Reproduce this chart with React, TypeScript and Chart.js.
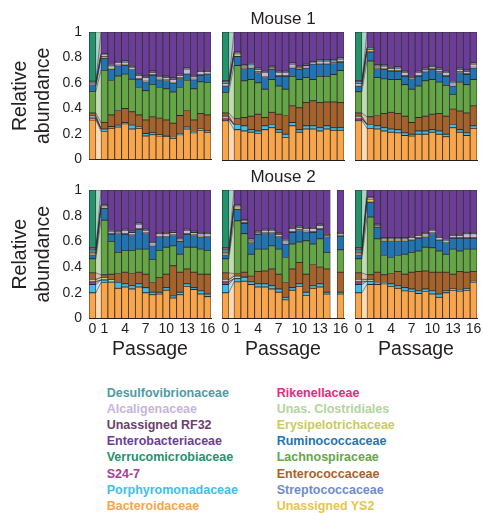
import React, { useEffect, useRef } from 'react';
import { Chart, registerables } from 'chart.js';

Chart.register(...registerables);

const FONT = '"Liberation Sans", Arial, Helvetica, sans-serif';
const TEXT = '#231f20';
const N = null;

const passages = [0, 1, 2, 3, 4, 5, 6, 7, 8, 9, 10, 11, 12, 13, 14, 15, 16];
const tickPassages = [0, 1, 4, 7, 10, 13, 16];
const panelTitles = [' ', 'Mouse 1', ' ', ' ', 'Mouse 2', ' '];

// stack order, bottom -> top
const families = [
  'Bacteroidaceae', 'Porphyromonadaceae', 'S24-7', 'Rikenellaceae', 'Unas. Clostridiales',
  'Streptococcaceae', 'Enterococcaceae', 'Lachnospiraceae', 'Ruminococcaceae', 'Unassigned YS2',
  'Erysipelotrichaceae', 'Alcaligenaceae', 'Desulfovibrionaceae', 'Unassigned RF32',
  'Enterobacteriaceae', 'Verrucomicrobiaceae',
];
const familyColors: Record<string, string> = {
  'Desulfovibrionaceae': '#4d9ca3',
  'Alcaligenaceae': '#c7b5dc',
  'Unassigned RF32': '#6a3f6b',
  'Enterobacteriaceae': '#6c3d98',
  'Verrucomicrobiaceae': '#22936b',
  'S24-7': '#a53e95',
  'Porphyromonadaceae': '#3cbfeb',
  'Bacteroidaceae': '#f9a54a',
  'Rikenellaceae': '#e6297d',
  'Unas. Clostridiales': '#b2d49b',
  'Erysipelotrichaceae': '#cacb5e',
  'Ruminococcaceae': '#1f75b3',
  'Lachnospiraceae': '#64a645',
  'Enterococcaceae': '#a5632b',
  'Streptococcaceae': '#6e8ccd',
  'Unassigned YS2': '#e6c54c',
};
const legendLeft = ['Desulfovibrionaceae', 'Alcaligenaceae', 'Unassigned RF32', 'Enterobacteriaceae',
  'Verrucomicrobiaceae', 'S24-7', 'Porphyromonadaceae', 'Bacteroidaceae'];
const legendRight = ['Rikenellaceae', 'Unas. Clostridiales', 'Erysipelotrichaceae', 'Ruminococcaceae',
  'Lachnospiraceae', 'Enterococcaceae', 'Streptococcaceae', 'Unassigned YS2'];

// each family: 6 panels (Mouse 1 row: 3 panels, Mouse 2 row: 3 panels) x 17 passages
const bacteroidaceae = [
  [0.31, 0.22, 0.245, 0.255, 0.28, 0.24, 0.245, 0.185, 0.195, 0.185, 0.18, 0.165, 0.195, 0.24, 0.21, 0.23, 0.215],
  [0.31, 0.24, 0.23, 0.22, 0.21, 0.24, 0.255, 0.22, 0.18, 0.27, 0.22, 0.245, 0.245, 0.23, 0.245, 0.235, 0.235],
  [0.31, 0.25, 0.245, 0.23, 0.22, 0.215, 0.195, 0.19, 0.205, 0.205, 0.22, 0.205, 0.185, 0.255, 0.22, 0.195, 0.25],
  [0.2, 0.28, 0.28, 0.235, 0.245, 0.23, 0.245, 0.2, 0.185, 0.19, 0.22, 0.16, 0.185, 0.25, 0.225, 0.19, 0.17],
  [0.2, 0.285, 0.29, 0.265, 0.245, 0.245, 0.23, 0.205, 0.145, 0.22, 0.25, 0.18, 0.235, 0.245, 0.19, N, 0.19],
  [0.2, 0.265, 0.265, 0.27, 0.25, 0.235, 0.215, 0.21, 0.195, 0.21, 0.19, 0.165, 0.2, 0.22, 0.21, 0.22, 0.28],
];
const porphyromonadaceae = [
  [0.01, 0.02, 0.015, 0.015, 0.01, 0.03, 0.01, 0.02, 0.015, 0.01, 0.01, 0.01, 0.01, 0.015, 0.01, 0.01, 0.01],
  [0.01, 0.04, 0.04, 0.02, 0.02, 0.03, 0.025, 0.02, 0.025, 0.025, 0.02, 0.025, 0.025, 0.025, 0.025, 0.02, 0.02],
  [0.01, 0.03, 0.025, 0.025, 0.025, 0.025, 0.02, 0.015, 0.025, 0.025, 0.02, 0.025, 0.02, 0.025, 0.02, 0.02, 0.02],
  [0.065, 0.02, 0.01, 0.045, 0.025, 0.025, 0.025, 0.04, 0.02, 0.015, 0.02, 0.015, 0.02, 0.02, 0.015, 0.025, 0.02],
  [0.065, 0.025, 0.03, 0.02, 0.025, 0.025, 0.025, 0.025, 0.02, 0.02, 0.02, 0.025, 0.02, 0.025, 0.015, N, 0.015],
  [0.065, 0.025, 0.005, 0.01, 0.02, 0.02, 0.025, 0.02, 0.02, 0.02, 0.025, 0.025, 0.015, 0.01, 0.01, 0.015, 0.01],
];
const s24_7 = [
  [0.005, 0, 0, 0, 0, 0, 0, 0, 0, 0, 0, 0, 0, 0, 0, 0, 0],
  [0.005, 0, 0, 0, 0, 0, 0, 0, 0, 0, 0, 0, 0, 0, 0, 0, 0],
  [0.005, 0, 0, 0, 0, 0, 0, 0, 0, 0, 0, 0, 0, 0, 0, 0, 0],
  [0.02, 0, 0, 0, 0, 0, 0, 0, 0, 0, 0, 0, 0, 0, 0, 0, 0],
  [0.02, 0, 0, 0, 0, 0, 0, 0, 0, 0, 0, 0, 0, 0, 0, N, 0],
  [0.02, 0, 0, 0, 0, 0, 0, 0, 0, 0, 0, 0, 0, 0, 0, 0, 0],
];
const rikenellaceae = [
  [0.005, 0, 0, 0, 0, 0, 0, 0, 0, 0, 0, 0, 0, 0, 0, 0, 0],
  [0.005, 0, 0, 0, 0, 0, 0, 0, 0, 0, 0, 0, 0, 0, 0, 0, 0],
  [0.005, 0, 0, 0, 0, 0, 0, 0, 0, 0, 0, 0, 0, 0, 0, 0, 0],
  [0.005, 0, 0, 0, 0, 0, 0, 0, 0, 0, 0, 0, 0, 0, 0, 0, 0],
  [0.005, 0, 0, 0, 0, 0, 0, 0, 0, 0, 0, 0, 0, 0, 0, N, 0],
  [0.005, 0, 0, 0, 0, 0, 0, 0, 0, 0, 0, 0, 0, 0, 0, 0, 0],
];
const unasClostridiales = [
  [0.01, 0, 0, 0, 0, 0, 0, 0, 0, 0, 0, 0, 0, 0, 0, 0, 0],
  [0.01, 0, 0, 0, 0, 0, 0, 0, 0, 0, 0, 0, 0, 0, 0, 0, 0],
  [0.01, 0, 0, 0, 0, 0, 0, 0, 0, 0, 0, 0, 0, 0, 0, 0, 0],
  [0.01, 0.02, 0.01, 0, 0, 0, 0, 0, 0, 0, 0, 0, 0, 0, 0, 0, 0],
  [0.01, 0.02, 0.005, 0, 0, 0, 0, 0, 0, 0, 0, 0, 0, 0, 0, N, 0],
  [0.01, 0.015, 0.01, 0, 0, 0, 0, 0, 0, 0, 0, 0, 0, 0, 0, 0, 0],
];
const streptococcaceae = [
  [0.005, 0, 0, 0, 0, 0, 0, 0, 0, 0, 0, 0, 0, 0, 0, 0, 0],
  [0.005, 0, 0, 0, 0, 0, 0, 0, 0, 0, 0, 0, 0, 0, 0, 0, 0],
  [0.005, 0, 0, 0, 0, 0, 0, 0, 0, 0, 0, 0, 0, 0, 0, 0, 0],
  [0.005, 0, 0, 0, 0, 0, 0, 0, 0, 0, 0, 0, 0, 0, 0, 0, 0],
  [0.005, 0, 0, 0, 0, 0, 0, 0, 0, 0, 0, 0, 0, 0, 0, N, 0],
  [0.005, 0, 0, 0, 0, 0, 0, 0, 0, 0, 0, 0, 0, 0, 0, 0, 0],
];
const enterococcaceae = [
  [0.02, 0.05, 0.09, 0.115, 0.11, 0.105, 0.095, 0.105, 0.125, 0.13, 0.12, 0.11, 0.14, 0.13, 0.09, 0.12, 0.125],
  [0.025, 0.045, 0.065, 0.105, 0.13, 0.065, 0.095, 0.12, 0.145, 0.13, 0.17, 0.18, 0.195, 0.195, 0.185, 0.2, 0.195],
  [0.025, 0.06, 0.08, 0.11, 0.13, 0.125, 0.13, 0.09, 0.105, 0.115, 0.12, 0.135, 0.14, 0.12, 0.145, 0.155, 0.155],
  [0.05, 0.02, 0.045, 0.07, 0.09, 0.095, 0.09, 0.105, 0.075, 0.115, 0.105, 0.235, 0.155, 0.115, 0.12, 0.13, 0.155],
  [0.05, 0.02, 0.035, 0.045, 0.095, 0.1, 0.13, 0.115, 0.115, 0.145, 0.165, 0.14, 0.165, 0.13, 0.18, N, 0.155],
  [0.05, 0.035, 0.08, 0.06, 0.08, 0.11, 0.105, 0.13, 0.15, 0.14, 0.145, 0.17, 0.145, 0.115, 0.145, 0.125, 0.075],
];
const lachnospiraceae = [
  [0.17, 0.41, 0.27, 0.27, 0.27, 0.255, 0.215, 0.23, 0.255, 0.24, 0.245, 0.245, 0.22, 0.235, 0.245, 0.25, 0.255],
  [0.16, 0.415, 0.285, 0.285, 0.245, 0.22, 0.255, 0.22, 0.205, 0.23, 0.22, 0.195, 0.165, 0.205, 0.2, 0.215, 0.25],
  [0.165, 0.435, 0.295, 0.27, 0.255, 0.265, 0.245, 0.26, 0.245, 0.275, 0.27, 0.245, 0.24, 0.115, 0.225, 0.22, 0.205],
  [0.11, 0.425, 0.255, 0.165, 0.17, 0.18, 0.18, 0.195, 0.18, 0.21, 0.21, 0.155, 0.14, 0.17, 0.195, 0.195, 0.185],
  [0.11, 0.41, 0.3, 0.17, 0.175, 0.17, 0.18, 0.195, 0.195, 0.195, 0.16, 0.26, 0.16, 0.22, 0.13, N, 0.175],
  [0.11, 0.45, 0.26, 0.15, 0.125, 0.125, 0.155, 0.155, 0.16, 0.185, 0.19, 0.165, 0.14, 0.195, 0.16, 0.18, 0.175],
];
const ruminococcaceae = [
  [0.045, 0.095, 0.09, 0.08, 0.07, 0.075, 0.065, 0.07, 0.07, 0.06, 0.065, 0.07, 0.07, 0.05, 0.07, 0.05, 0.065],
  [0.05, 0.07, 0.095, 0.09, 0.08, 0.09, 0.08, 0.075, 0.1, 0.065, 0.08, 0.075, 0.12, 0.095, 0.095, 0.085, 0.065],
  [0.045, 0.07, 0.07, 0.075, 0.065, 0.065, 0.065, 0.075, 0.075, 0.07, 0.08, 0.075, 0.07, 0.065, 0.075, 0.08, 0.09],
  [0.03, 0.09, 0.055, 0.145, 0.125, 0.115, 0.155, 0.12, 0.105, 0.1, 0.075, 0.08, 0.1, 0.1, 0.09, 0.095, 0.1],
  [0.03, 0.09, 0.08, 0.09, 0.115, 0.12, 0.095, 0.09, 0.105, 0.09, 0.09, 0.07, 0.09, 0.075, 0.115, N, 0.105],
  [0.03, 0.115, 0.09, 0.115, 0.13, 0.115, 0.105, 0.095, 0.1, 0.08, 0.11, 0.085, 0.09, 0.085, 0.1, 0.085, 0.085],
];
const unassignedYS2 = [
  [0, 0.015, 0.005, 0.005, 0.005, 0.005, 0.005, 0.005, 0.005, 0.005, 0.005, 0.005, 0.005, 0.005, 0.005, 0.005, 0.005],
  [0, 0.02, 0.005, 0.005, 0.005, 0.005, 0.005, 0.005, 0.005, 0.005, 0.005, 0.005, 0.005, 0.005, 0.005, 0.005, 0.005],
  [0, 0.02, 0.005, 0.005, 0.005, 0.005, 0.005, 0.005, 0.005, 0.005, 0.005, 0.005, 0.005, 0.005, 0.005, 0.005, 0.005],
  [0.005, 0.015, 0.005, 0.005, 0.005, 0.005, 0.005, 0.005, 0.005, 0.005, 0.005, 0.005, 0.005, 0.005, 0.005, 0.005, 0.005],
  [0.005, 0.02, 0.005, 0.005, 0.005, 0.005, 0.005, 0.005, 0.005, 0.005, 0.005, 0.005, 0.005, 0.005, 0.005, N, 0.005],
  [0.005, 0.025, 0.005, 0.005, 0.005, 0.005, 0.005, 0.005, 0.005, 0.005, 0.005, 0.005, 0.005, 0.005, 0.005, 0.005, 0.005],
];
const erysipelotrichaceae = [
  [0.005, 0, 0, 0, 0, 0, 0, 0, 0, 0, 0, 0, 0, 0, 0, 0, 0],
  [0.005, 0, 0, 0, 0, 0, 0, 0, 0, 0, 0, 0, 0, 0, 0, 0, 0],
  [0.005, 0, 0, 0, 0, 0, 0, 0, 0, 0, 0, 0, 0, 0, 0, 0, 0],
  [0.005, 0, 0, 0, 0, 0, 0, 0, 0, 0, 0, 0, 0, 0, 0, 0, 0],
  [0.005, 0, 0, 0, 0, 0, 0, 0, 0, 0, 0, 0, 0, 0, 0, N, 0],
  [0.005, 0, 0, 0, 0, 0, 0, 0, 0, 0, 0, 0, 0, 0, 0, 0, 0],
];
const alcaligenaceae = [
  [0.005, 0.01, 0.02, 0.02, 0.02, 0.01, 0.025, 0.03, 0.02, 0.02, 0.02, 0.025, 0.02, 0.035, 0.02, 0.025, 0.015],
  [0.01, 0.005, 0.015, 0.02, 0.02, 0.035, 0.01, 0.025, 0.025, 0.025, 0.01, 0.015, 0.005, 0.02, 0.02, 0.015, 0.02],
  [0.01, 0.005, 0.015, 0.02, 0.015, 0.02, 0.025, 0.01, 0.025, 0.015, 0.015, 0.02, 0.025, 0.02, 0.02, 0.02, 0.025],
  [0.01, 0.005, 0.015, 0.005, 0.025, 0.02, 0.035, 0.02, 0.02, 0.025, 0.025, 0.02, 0.01, 0.025, 0.02, 0.02, 0.025],
  [0.01, 0.005, 0.015, 0.015, 0.01, 0.02, 0.02, 0.02, 0.02, 0.025, 0.02, 0.02, 0.025, 0.025, 0.01, N, 0.015],
  [0.01, 0.005, 0.01, 0.01, 0.01, 0.01, 0.01, 0.015, 0.015, 0.02, 0.02, 0.015, 0.01, 0.015, 0.015, 0.03, 0.03],
];
const desulfovibrionaceae = [
  [0.02, 0.005, 0.005, 0.005, 0.005, 0.005, 0.005, 0.005, 0.005, 0.005, 0.005, 0.005, 0.005, 0.005, 0.005, 0.005, 0.005],
  [0.02, 0.005, 0.005, 0.005, 0.005, 0.005, 0.005, 0.005, 0.005, 0.005, 0.005, 0.005, 0.005, 0.005, 0.005, 0.005, 0.005],
  [0.02, 0.005, 0.005, 0.005, 0.005, 0.005, 0.005, 0.005, 0.005, 0.005, 0.005, 0.005, 0.005, 0.005, 0.005, 0.005, 0.005],
  [0.02, 0.005, 0.005, 0.005, 0.005, 0.005, 0.005, 0.005, 0.005, 0.005, 0.005, 0.005, 0.005, 0.005, 0.005, 0.005, 0.005],
  [0.02, 0.005, 0.005, 0.005, 0.005, 0.005, 0.005, 0.005, 0.005, 0.005, 0.005, 0.005, 0.005, 0.005, 0.005, N, 0.005],
  [0.02, 0.005, 0.005, 0.005, 0.005, 0.005, 0.005, 0.005, 0.005, 0.005, 0.005, 0.005, 0.005, 0.005, 0.005, 0.005, 0.005],
];
const unassignedRF32 = [
  [0.005, 0.005, 0.005, 0.005, 0.005, 0.005, 0.005, 0.005, 0.005, 0.005, 0.005, 0.005, 0.005, 0.005, 0.005, 0.005, 0.005],
  [0.005, 0.005, 0.005, 0.005, 0.005, 0.005, 0.005, 0.005, 0.005, 0.005, 0.005, 0.005, 0.005, 0.005, 0.005, 0.005, 0.005],
  [0.005, 0.005, 0.005, 0.005, 0.005, 0.005, 0.005, 0.005, 0.005, 0.005, 0.005, 0.005, 0.005, 0.005, 0.005, 0.005, 0.005],
  [0.01, 0.005, 0.005, 0.005, 0.005, 0.005, 0.005, 0.005, 0.005, 0.005, 0.005, 0.005, 0.005, 0.005, 0.005, 0.005, 0.005],
  [0.01, 0.005, 0.005, 0.005, 0.005, 0.005, 0.005, 0.005, 0.005, 0.005, 0.005, 0.005, 0.005, 0.005, 0.005, N, 0.005],
  [0.01, 0.005, 0.005, 0.005, 0.005, 0.005, 0.005, 0.005, 0.005, 0.005, 0.005, 0.005, 0.005, 0.005, 0.005, 0.005, 0.005],
];
const enterobacteriaceae = [
  [0, 0.17, 0.255, 0.23, 0.225, 0.27, 0.33, 0.345, 0.305, 0.34, 0.345, 0.36, 0.33, 0.28, 0.34, 0.3, 0.3],
  [0, 0.155, 0.255, 0.245, 0.28, 0.305, 0.265, 0.305, 0.305, 0.24, 0.265, 0.25, 0.23, 0.215, 0.215, 0.215, 0.2],
  [0, 0.12, 0.255, 0.255, 0.275, 0.27, 0.305, 0.345, 0.305, 0.28, 0.26, 0.28, 0.305, 0.385, 0.28, 0.295, 0.24],
  [0.005, 0.115, 0.315, 0.32, 0.305, 0.32, 0.255, 0.305, 0.4, 0.33, 0.33, 0.32, 0.375, 0.305, 0.32, 0.33, 0.33],
  [0.005, 0.115, 0.23, 0.38, 0.32, 0.305, 0.305, 0.335, 0.385, 0.29, 0.28, 0.29, 0.29, 0.265, 0.345, N, 0.33],
  [0.005, 0.055, 0.265, 0.37, 0.37, 0.37, 0.37, 0.36, 0.345, 0.33, 0.305, 0.36, 0.385, 0.345, 0.345, 0.33, 0.33],
];
const verrucomicrobiaceae = [
  [0.385, 0, 0, 0, 0, 0, 0, 0, 0, 0, 0, 0, 0, 0, 0, 0, 0],
  [0.38, 0, 0, 0, 0, 0, 0, 0, 0, 0, 0, 0, 0, 0, 0, 0, 0],
  [0.38, 0, 0, 0, 0, 0, 0, 0, 0, 0, 0, 0, 0, 0, 0, 0, 0],
  [0.45, 0, 0, 0, 0, 0, 0, 0, 0, 0, 0, 0, 0, 0, 0, 0, 0],
  [0.45, 0, 0, 0, 0, 0, 0, 0, 0, 0, 0, 0, 0, 0, 0, N, 0],
  [0.45, 0, 0, 0, 0, 0, 0, 0, 0, 0, 0, 0, 0, 0, 0, 0, 0],
];

const familyData: (number | null)[][][] = [
  bacteroidaceae, porphyromonadaceae, s24_7, rikenellaceae, unasClostridiales, streptococcaceae,
  enterococcaceae, lachnospiraceae, ruminococcaceae, unassignedYS2, erysipelotrichaceae,
  alcaligenaceae, desulfovibrionaceae, unassignedRF32, enterobacteriaceae, verrucomicrobiaceae,
];

// axis position of a passage: passage 0 sits apart from the rest
const GAP = 0.75;
const xPos = (p: number) => (p === 0 ? 0 : p + GAP);

// layout
const colLeft = [0, 219, 352];
const colWidth = [219, 133, 133];
const rowTop = [9, 167];
const rowHeight = [166, 194];

function fade(hex: string, a: number) {
  const n = parseInt(hex.slice(1), 16);
  return `rgba(${(n >> 16) & 255},${(n >> 8) & 255},${n & 255},${a})`;
}

function buildConfig(i: number): any {
  const row = Math.floor(i / 3);
  const col = i % 3;
  const bars = families.map((name, f) => ({
    type: 'bar',
    label: name,
    stack: 'bars',
    data: passages
      .map((p, j) => ({ x: xPos(p), y: familyData[f][i][j] }))
      .filter((pt) => pt.y !== null),
    backgroundColor: familyColors[name],
    borderColor: 'rgba(35,31,32,0.9)',
    borderWidth: 0.8,
    borderSkipped: false,
    categoryPercentage: 1,
    barPercentage: 1,
  }));
  const wedgeX = [xPos(0) + 0.5, xPos(1) - 0.5];
  const wedge = families.map((name, f) => ({
    type: 'line',
    label: name + ' transition',
    stack: 'wedge',
    data: [
      { x: wedgeX[0], y: familyData[f][i][0] },
      { x: wedgeX[1], y: familyData[f][i][1] },
    ],
    fill: f === 0 ? 'origin' : '-1',
    backgroundColor: fade(familyColors[name], 0.4),
    borderColor: 'rgba(35,31,32,0.6)',
    borderWidth: 0.8,
    pointRadius: 0,
    tension: 0,
  }));
  return {
    type: 'bar',
    data: { datasets: [...bars, ...wedge] },
    options: {
      responsive: false,
      animation: false,
      events: [],
      layout: { padding: { left: col === 0 ? 0 : 3, right: 8, top: 0.6, bottom: 0 } },
      plugins: {
        legend: { display: false },
        tooltip: { enabled: false },
        title: {
          display: true,
          text: panelTitles[i],
          color: TEXT,
          font: { family: FONT, size: 17, weight: 'normal' },
          padding: { top: 0, bottom: 2 },
        },
      },
      scales: {
        x: {
          type: 'linear',
          offset: false,
          min: xPos(0) - 0.5,
          max: xPos(16) + 0.5,
          afterBuildTicks: (s: any) => {
            s.ticks = tickPassages.map((p) => ({ value: xPos(p) }));
          },
          afterFit: (s: any) => {
            s.height = row === 0 ? 14.5 : 42.5;
          },
          ticks: {
            display: row === 1,
            autoSkip: false,
            maxRotation: 0,
            padding: 2,
            color: TEXT,
            font: { family: FONT, size: 14 },
            callback: (v: number) => {
              const p = tickPassages.find((q) => Math.abs(xPos(q) - v) < 1e-6);
              return p === undefined ? '' : String(p);
            },
          },
          grid: { display: false, drawTicks: false, offset: false },
          border: { display: true, color: TEXT, width: 1 },
          title: {
            display: row === 1,
            text: 'Passage',
            color: TEXT,
            font: { family: FONT, size: 19.5 },
            padding: 0,
          },
        },
        y: {
          stacked: true,
          min: 0,
          max: 1,
          afterFit: (s: any) => {
            s.width = col === 0 ? 89 : 0;
          },
          ticks: {
            display: col === 0,
            stepSize: 0.2,
            padding: 7,
            color: TEXT,
            font: { family: FONT, size: 14 },
            callback: (v: number) => String(Math.round(v * 10) / 10),
          },
          grid: { display: false, drawTicks: false },
          border: { display: true, color: TEXT, width: 1 },
          title: {
            display: col === 0,
            text: ['Relative', 'abundance'],
            color: TEXT,
            font: { family: FONT, size: 19.5 },
            padding: { top: 9, bottom: 0 },
          },
        },
      },
    },
  };
}

export default function App() {
  const refs = useRef<(HTMLCanvasElement | null)[]>([]);
  useEffect(() => {
    const charts = panelTitles.map((_, i) => new Chart(refs.current[i] as HTMLCanvasElement, buildConfig(i)));
    return () => charts.forEach((c) => c.destroy());
  }, []);

  const legendStyle = (left: number): React.CSSProperties => ({
    position: 'absolute',
    left,
    top: 384.6,
    fontFamily: FONT,
    fontWeight: 'bold',
    fontSize: 12.5,
    lineHeight: '16.2px',
    whiteSpace: 'nowrap',
  });

  return (
    <div style={{ position: 'fixed', left: 0, top: 0, width: 483, height: 513, background: '#fff', overflow: 'hidden' }}>
      {panelTitles.map((_, i) => {
        const row = Math.floor(i / 3);
        const col = i % 3;
        return (
          <canvas
            key={i}
            ref={(el) => {
              refs.current[i] = el;
            }}
            width={colWidth[col]}
            height={rowHeight[row]}
            style={{
              position: 'absolute',
              left: colLeft[col],
              top: rowTop[row],
              width: colWidth[col],
              height: rowHeight[row],
            }}
          />
        );
      })}
      <div style={legendStyle(106.7)}>
        {legendLeft.map((n) => (
          <div key={n} style={{ color: familyColors[n] }}>{n}</div>
        ))}
      </div>
      <div style={legendStyle(276.7)}>
        {legendRight.map((n) => (
          <div key={n} style={{ color: familyColors[n] }}>{n}</div>
        ))}
      </div>
    </div>
  );
}
